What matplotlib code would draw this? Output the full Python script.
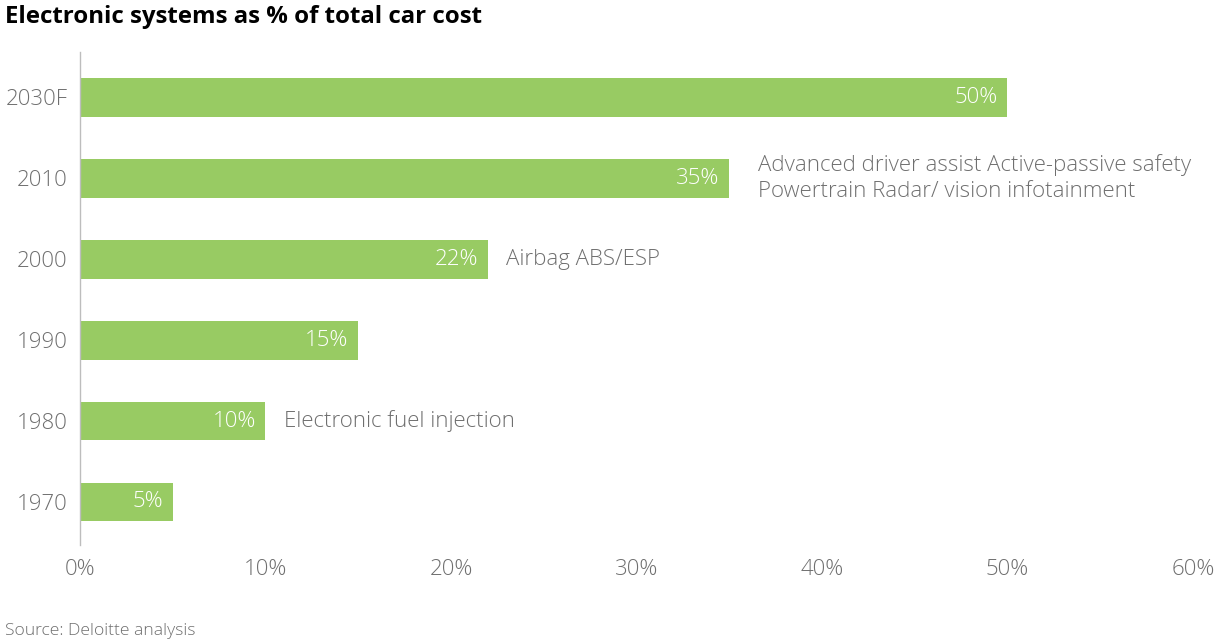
import matplotlib.pyplot as plt
import numpy as np

# data
years = ['1970', '1980', '1990', '2000', '2010', '2030F']
share = [5, 10, 15, 22, 35, 50]
notes = ['', 'Electronic fuel injection', '', 'Airbag ABS/ESP',
         'Advanced driver assist Active-passive safety\nPowertrain Radar/ vision infotainment', '']
xticks = [0, 10, 20, 30, 40, 50, 60]

plt.rcParams['font.family'] = ['Open Sans', 'DejaVu Sans']

green = '#98cb63'
grey = '#6f6f6f'

fig = plt.figure(figsize=(12.23, 6.44), dpi=100)
ax = fig.add_axes([0.0654, 0.154, 0.910, 0.765])

y = np.arange(len(years))
bars = ax.barh(y, share, height=0.48, color=green)

ax.set_xlim(0, 60)
ax.set_ylim(-0.53, 5.56)
ax.set_yticks(y)
ax.set_yticklabels(years, fontsize=16, color=grey, fontweight='light')
ax.set_xticks(xticks)
ax.set_xticklabels([f'{t}%' for t in xticks], fontsize=16, color=grey, fontweight='light')
ax.tick_params(axis='both', length=0)
ax.tick_params(axis='y', pad=9)
ax.tick_params(axis='x', pad=10)

for s in ['top', 'right', 'bottom']:
    ax.spines[s].set_visible(False)
ax.spines['left'].set_color('#bdbdbd')
ax.spines['left'].set_linewidth(1)

# value labels inside bars + notes to the right
for rect, v, note in zip(bars, share, notes):
    yc = rect.get_y() + rect.get_height() / 2
    ax.annotate(f'{v}%', xy=(v, yc), xytext=(-7, 0), textcoords='offset points',
                ha='right', va='center', fontsize=16, color='white', fontweight='light')
    if note:
        off = 21 if '\n' in note else 13
        ax.annotate(note, xy=(v, yc), xytext=(off, 0), textcoords='offset points',
                    ha='left', va='center', fontsize=16, color=grey, fontweight='light',
                    linespacing=1.3)

fig.text(0.004, 0.973, 'Electronic systems as % of total car cost', fontsize=17.3,
         fontweight='bold', color='black', ha='left', va='center')
fig.text(0.004, 0.02, 'Source: Deloitte analysis', fontsize=12.6, color=grey,
         fontweight='light', ha='left', va='center')

fig.savefig('out.png', dpi=100)
